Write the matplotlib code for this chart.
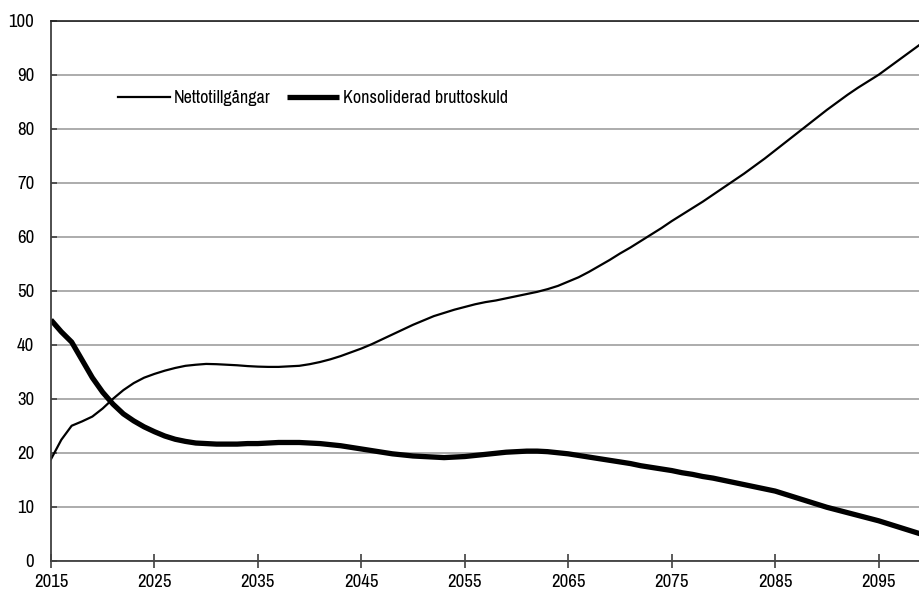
import matplotlib.pyplot as plt
from matplotlib import font_manager
import numpy as np

# Data (procent av BNP)
years = np.arange(2015, 2100)
nettotillgangar = [
    18.8, 22.4, 25.0, 25.8, 26.7, 28.2, 30.0, 31.6, 32.9, 33.9,
    34.6, 35.2, 35.7, 36.1, 36.3, 36.45, 36.4, 36.3, 36.2, 36.05,
    35.95, 35.9, 35.9, 36.0, 36.1, 36.4, 36.8, 37.3, 37.9, 38.6,
    39.3, 40.1, 41.0, 41.9, 42.8, 43.7, 44.5, 45.3, 45.9, 46.5,
    47.0, 47.5, 47.9, 48.2, 48.6, 49.0, 49.4, 49.8, 50.3, 50.9,
    51.7, 52.5, 53.5, 54.6, 55.7, 56.9, 58.0, 59.2, 60.4, 61.6,
    62.9, 64.1, 65.3, 66.5, 67.8, 69.1, 70.4, 71.7, 73.1, 74.5,
    76.0, 77.5, 79.0, 80.5, 82.0, 83.5, 84.9, 86.3, 87.6, 88.8,
    90.0, 91.4, 92.8, 94.2, 95.6,
]
bruttoskuld = [
    44.6, 42.4, 40.5, 37.2, 33.9, 31.2, 29.0, 27.2, 25.9, 24.8,
    23.9, 23.1, 22.5, 22.1, 21.8, 21.7, 21.6, 21.6, 21.6, 21.7,
    21.7, 21.8, 21.9, 21.9, 21.9, 21.8, 21.7, 21.5, 21.3, 21.0,
    20.7, 20.4, 20.1, 19.8, 19.6, 19.4, 19.3, 19.2, 19.1, 19.2,
    19.3, 19.5, 19.7, 19.9, 20.1, 20.2, 20.3, 20.3, 20.2, 20.0,
    19.8, 19.5, 19.2, 18.9, 18.6, 18.3, 18.0, 17.6, 17.3, 17.0,
    16.7, 16.3, 16.0, 15.6, 15.3, 14.9, 14.5, 14.1, 13.7, 13.3,
    12.9, 12.3, 11.7, 11.1, 10.5, 9.9, 9.4, 8.9, 8.4, 7.9,
    7.4, 6.8, 6.2, 5.6, 5.0,
]
labels = ["Nettotillgångar", "Konsoliderad bruttoskuld"]
xticks = np.arange(2015, 2100, 10)
yticks = np.arange(0, 101, 10)

# the original uses a condensed sans; take one if the system has it
narrow = sorted({f.name for f in font_manager.fontManager.ttflist
                 if "Narrow" in f.name or "Condensed" in f.name})
plt.rcParams['font.family'] = narrow[:1] + ['Liberation Sans', 'DejaVu Sans']
if not narrow:
    plt.rcParams['font.stretch'] = 'condensed'

fig = plt.figure(figsize=(9.2, 5.94), dpi=100)
ax = fig.add_axes([0.0554, 0.056, 0.9446, 0.909])

ax.plot(years, nettotillgangar, color="black", lw=1.6, label=labels[0])
ax.plot(years, bruttoskuld, color="black", lw=3.8, label=labels[1],
        solid_capstyle="butt")

ax.set_xlim(2015, 2099)
ax.set_ylim(0, 100)
ax.set_xticks(xticks)
ax.set_yticks(yticks)
ax.grid(axis="y", color="#a6a6a6", lw=1.3)
ax.set_axisbelow(True)

for s in ["left", "bottom"]:
    ax.spines[s].set_color("#404040")
    ax.spines[s].set_linewidth(1.3)
ax.spines["top"].set_color("#202020")
ax.spines["top"].set_linewidth(1.2)
ax.spines["right"].set_visible(False)

ax.tick_params(axis="x", direction="inout", length=9.5, width=1.2,
               color="#404040", labelsize=13.5, pad=5)
ax.tick_params(axis="y", direction="in", length=4.5, width=1.2,
               color="#404040", labelsize=13.5, pad=12)

ax.legend(loc="center left", bbox_to_anchor=(0.058, 0.857), ncol=2,
          frameon=False, fontsize=13, handlelength=2.9, handletextpad=0.2,
          columnspacing=0.9)

fig.savefig("out.png", dpi=100)
